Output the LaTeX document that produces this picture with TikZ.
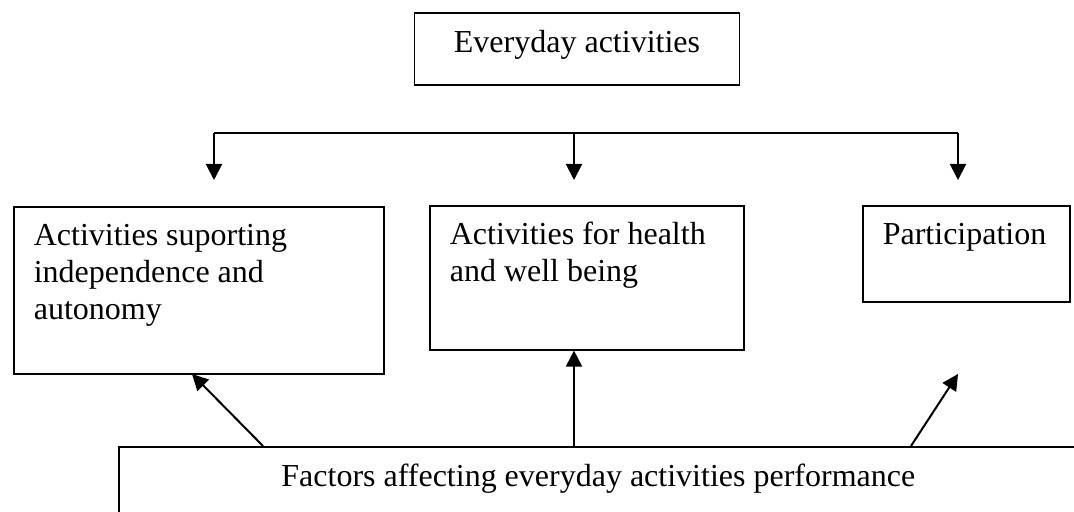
\documentclass[tikz,border=0pt]{standalone}
\usepackage{fontspec}
\setmainfont{Liberation Serif}
\usetikzlibrary{arrows.meta}

% text set at the top left of a box of given width and height
\newcommand{\boxbody}[3]{\parbox[c][#2][t]{#1}{\vspace*{6.5pt}\raggedright\strut#3}}

\begin{document}
\begin{tikzpicture}[x=0.5pt, y=-0.5pt,
    font=\fontsize{16}{18.5}\selectfont,
    box/.style={draw, line width=0.8pt, anchor=north west,
                inner xsep=10pt, inner ysep=0pt},
    bar/.style={line width=1pt},
    link/.style={line width=1pt, -{Triangle[width=8pt,length=8pt]}}]
  \clip (0,0) rectangle (1074,512);

  \node[draw, line width=0.8pt, minimum width=162.5pt, minimum height=36pt,
        text height=11pt, text depth=7pt]
    (everyday) at (577,49) {Everyday activities};

  \node[box] (indep) at (13,206)
    {\boxbody{165pt}{83.5pt}{Activities suporting\\ independence and\\ autonomy}};
  \node[box] (health) at (429,205)
    {\boxbody{137pt}{72pt}{Activities for health\\ and well being}};
  \node[box] (partic) at (862,205)
    {\boxbody{83.5pt}{48pt}{Participation}};

  \node[draw, line width=0.8pt, anchor=north west, minimum width=479.5pt,
        text height=11pt, text depth=25pt, inner ysep=9pt]
    (factors) at (118,446) {Factors affecting everyday activities performance};

  % split bar
  \coordinate (splitL) at (214,133);
  \coordinate (splitM) at (574,133);
  \coordinate (splitR) at (958,133);
  \draw[bar] (splitL) -- (splitR);
  \draw[link, shorten >=13pt] (splitL) -- (splitL |- indep.north);
  \draw[link, shorten >=12.5pt] (splitM) -- (splitM |- health.north);
  \draw[link, shorten >=12.5pt] (splitR) -- (splitR |- partic.north);

  % factors arrows
  \coordinate (baseL) at (263,446);
  \coordinate (baseM) at (574,446);
  \coordinate (baseR) at (911,446);
  \coordinate (tipL) at (192,374);
  \coordinate (tipR) at (958,374);
  \draw[link] (baseL) -- (tipL);
  \draw[link] (baseM) -- (baseM |- health.south);
  \draw[link] (baseR) -- (tipR);
\end{tikzpicture}
\end{document}
